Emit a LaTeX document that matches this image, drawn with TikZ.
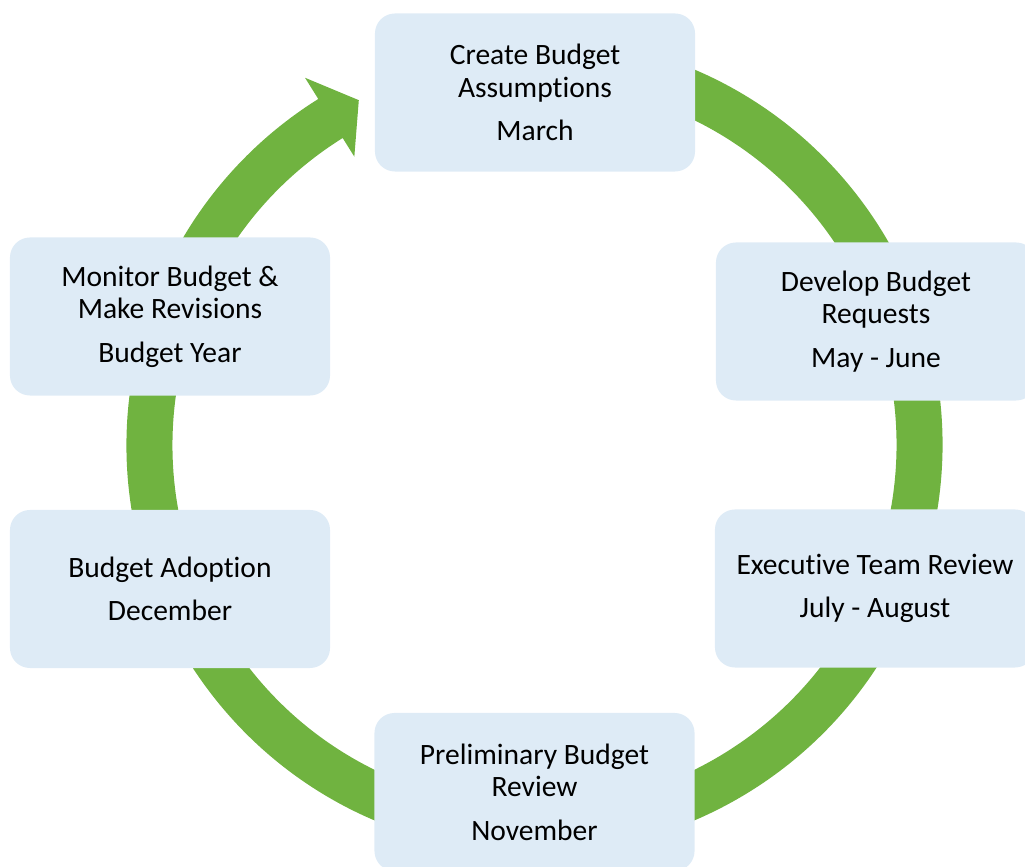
\documentclass[tikz,border=0pt]{standalone}
\usepackage{fontspec}
\setmainfont{Carlito}[Ligatures={NoCommon}]
\usetikzlibrary{positioning}
\definecolor{ringgreen}{RGB}{112,179,64}
\definecolor{boxblue}{RGB}{222,235,246}

\begin{document}
\begin{tikzpicture}[x=0.025cm, y=0.025cm,
  stagebox/.style={rectangle, rounded corners=0.5cm, fill=boxblue,
    minimum width=8cm, minimum height=3.95cm, align=center,
    font=\fontsize{21}{23}\selectfont}]

\useasboundingbox (0,0) rectangle (1025,867);

% Cycle arrow (clockwise, ends pointing at the first stage)
\coordinate (c) at (534.5,422);
\fill[ringgreen, shift={(c)}] (80:408) arc[start angle=80, end angle=-238, radius=408]
  -- (122:433) -- (117:387) -- (122:340) -- (122:362)
  arc[start angle=-238, end angle=80, radius=362] -- cycle;

% Stages of the budget cycle
\node[stagebox] (assume)  at (535,774.5) {Create Budget\\Assumptions\\[8pt]March};
\node[stagebox] (request) at (876,545.5) {Develop Budget\\Requests\\[8pt]May - June};
\node[stagebox] (execrev) at (875,278.5) {Executive Team Review\\[8pt]July - August};
\node[stagebox] (prelim)  at (534.5,75)  {Preliminary Budget\\Review\\[8pt]November};
\node[stagebox] (adopt)   at (170,278)   {Budget Adoption\\[8pt]December};
\node[stagebox] (monitor) at (170,550.5) {Monitor Budget \&\\Make Revisions\\[8pt]Budget Year};

\end{tikzpicture}
\end{document}
